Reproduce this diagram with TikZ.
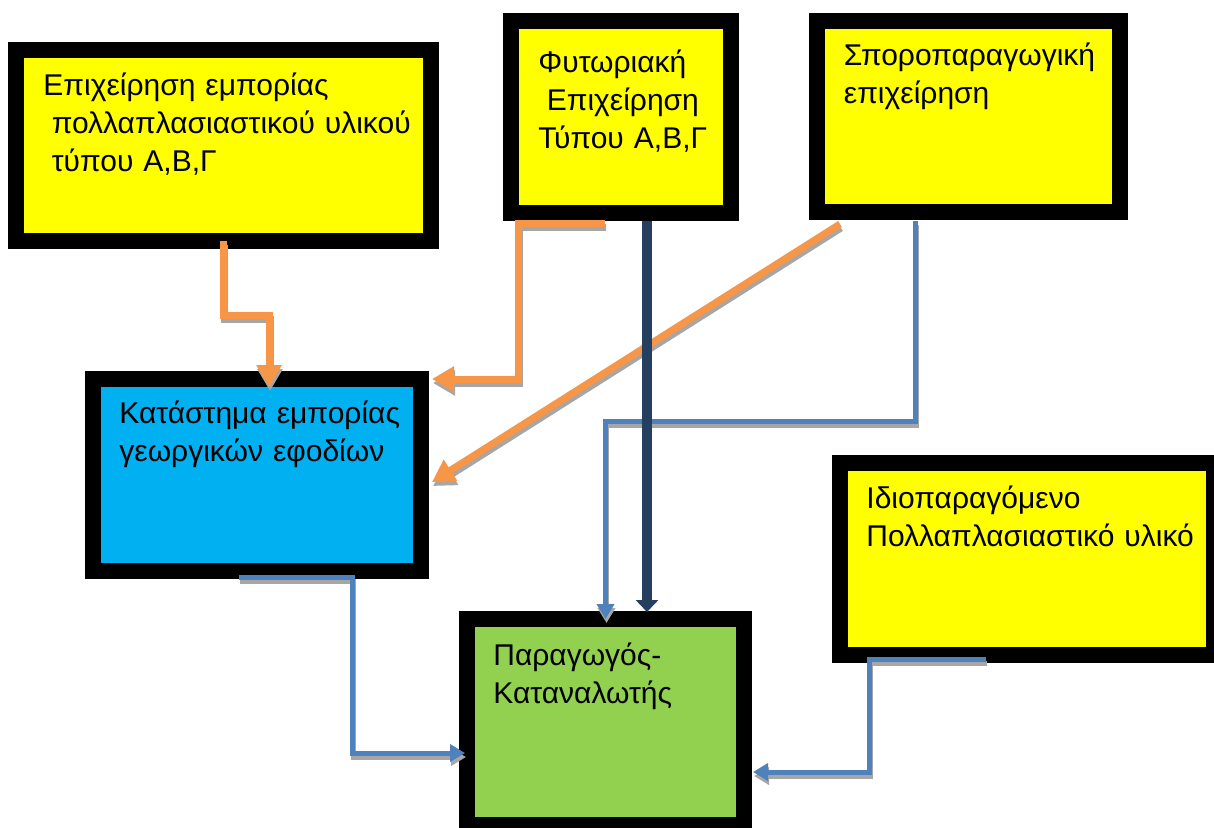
\documentclass[tikz,border=0pt]{standalone}
\usepackage{fontspec}
\setmainfont{Liberation Sans}
\usetikzlibrary{arrows.meta}
\definecolor{BoxYellow}{HTML}{FFFF00}
\definecolor{BoxBlue}{HTML}{00B0F0}
\definecolor{BoxGreen}{HTML}{92D050}
\definecolor{LineOrange}{HTML}{F79646}
\definecolor{LineBlue}{HTML}{4F81BD}
\definecolor{LineNavy}{HTML}{243F60}
\definecolor{ShadowGray}{HTML}{A6A6A6}

\begin{document}
\begin{tikzpicture}[
  x=0.5pt, y=-0.5pt,
  box/.style={draw=black, line width=8pt, inner sep=0pt, outer sep=0pt},
  lbl/.style={anchor=base west, inner sep=0pt, text width=200pt, align=left,
              font=\fontsize{15pt}{19.2pt}\selectfont},
  orangeln/.style={draw=LineOrange, line width=3.5pt, -{Triangle[length=11pt,width=12pt]},
              preaction={draw=ShadowGray, line width=3.5pt, -{Triangle[length=11pt,width=12pt]},
                         transform canvas={shift={(0.5pt,-2pt)}}}},
  blueln/.style={draw=LineBlue, line width=2.5pt, -{Triangle[length=7.5pt,width=8.5pt]},
              preaction={draw=ShadowGray, line width=2.5pt, -{Triangle[length=7.5pt,width=8.5pt]},
                         transform canvas={shift={(0.5pt,-2pt)}}}},
  navyln/.style={draw=LineNavy, line width=5pt, -{Triangle[length=6pt,width=11pt]}}
]
\useasboundingbox (0,0) rectangle (1214,827);

% boxes
\node[box, fill=BoxYellow, minimum width=207.5pt, minimum height=95.5pt] (dealer)  at (223.5,145.5) {};
\node[box, fill=BoxYellow, minimum width=110pt,   minimum height=96pt]   (nursery) at (621,117) {};
\node[box, fill=BoxYellow, minimum width=151.5pt, minimum height=95.5pt] (seed)    at (968.5,116.5) {};
\node[box, fill=BoxBlue,   minimum width=164pt,   minimum height=96pt]   (shop)    at (257,475) {};
\node[box, fill=BoxYellow, minimum width=187pt,   minimum height=96pt]   (own)     at (1027,559) {};
\node[box, fill=BoxGreen,  minimum width=138.5pt, minimum height=103pt]  (farmer)  at (605.5,722) {};

% texts
\node[lbl] (dealer-txt)  at ([xshift=13.5pt,yshift=-22.5pt]dealer.north west)
  {Επιχείρηση εμπορίας\\\hspace*{4.2pt}πολλαπλασιαστικού υλικού\\\hspace*{4.2pt}τύπου Α,Β,Γ};
\node[lbl] (nursery-txt) at ([xshift=13.5pt,yshift=-25.5pt]nursery.north west)
  {Φυτωριακή\\\hspace*{4.2pt}Επιχείρηση\\Τύπου Α,Β,Γ};
\node[lbl] (seed-txt)    at ([xshift=13.25pt,yshift=-22pt]seed.north west)
  {Σποροπαραγωγική\\επιχείρηση};
\node[lbl] (shop-txt)    at ([xshift=13pt,yshift=-22pt]shop.north west)
  {Κατάστημα εμπορίας\\γεωργικών εφοδίων};
\node[lbl] (own-txt)     at ([xshift=13pt,yshift=-22.5pt]own.north west)
  {Ιδιοπαραγόμενο\\Πολλαπλασιαστικό υλικό};
\node[lbl] (farmer-txt)  at ([xshift=13pt,yshift=-23pt]farmer.north west)
  {Παραγωγός-\\Καταναλωτής};

% connectors
\draw[orangeln] (dealer.south) -- ++(0,74) -| ([xshift=6pt,yshift=-4pt]shop.north);
\draw[orangeln] ([xshift=-8pt,yshift=-5pt]nursery.south) -- ++(-87,0) |- ([xshift=5.5pt]shop.north east);
\draw[orangeln] ([xshift=11.5pt,yshift=-6pt]seed.south west) -- ([xshift=5.5pt,yshift=-3.5pt]shop.east);
\draw[blueln] ([xshift=-26.75pt,yshift=-4.5pt]seed.south) -- ++(0,200) -| (farmer.north);
\draw[blueln] ([xshift=-9pt,yshift=-3pt]shop.south) -- ++(113,0) |- ([xshift=-1pt,yshift=-15.5pt]farmer.west);
\draw[blueln] ([xshift=-20.5pt,yshift=-2pt]own.south) -- ++(-117,0) |- ([xshift=4.5pt,yshift=-25pt]farmer.east);
\draw[navyln] ([xshift=13pt,yshift=-4pt]nursery.south) -- ([xshift=20.75pt,yshift=3.5pt]farmer.north);
\end{tikzpicture}
\end{document}
